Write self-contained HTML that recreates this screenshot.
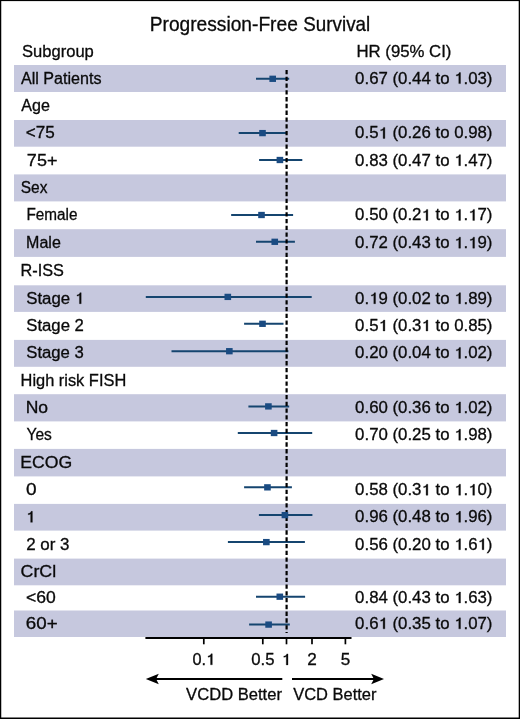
<!DOCTYPE html>
<html><head><meta charset="utf-8"><style>
html,body{margin:0;padding:0;background:#fff;}
#c{position:relative;width:520px;height:719px;overflow:hidden;background:#fff;}
svg{position:absolute;left:0;top:0;will-change:transform;}
text{font-family:"Liberation Sans",sans-serif;fill:#0a0a0a;stroke:#0a0a0a;stroke-width:0.3px;}
</style></head><body><div id="c"><svg width="520" height="719" viewBox="0 0 520 719">
<rect x="14" y="65" width="492" height="27.00" fill="#c6c8de"/>
<rect x="14" y="120" width="492" height="26.70" fill="#c6c8de"/>
<rect x="14" y="174.4" width="492" height="27.00" fill="#c6c8de"/>
<rect x="14" y="229.2" width="492" height="27.70" fill="#c6c8de"/>
<rect x="14" y="285.3" width="492" height="26.60" fill="#c6c8de"/>
<rect x="14" y="339.9" width="492" height="26.90" fill="#c6c8de"/>
<rect x="14" y="394.2" width="492" height="27.20" fill="#c6c8de"/>
<rect x="14" y="448.9" width="492" height="27.50" fill="#c6c8de"/>
<rect x="14" y="503.9" width="492" height="26.70" fill="#c6c8de"/>
<rect x="14" y="558.6" width="492" height="26.70" fill="#c6c8de"/>
<rect x="14" y="610.5" width="492" height="26.50" fill="#c6c8de"/>
<text x="149.73" y="30.90" font-size="20.2" textLength="148.12" lengthAdjust="spacingAndGlyphs">Progression-Free</text>
<text x="303.35" y="30.90" font-size="20.2" textLength="66.81" lengthAdjust="spacingAndGlyphs">Survival</text>
<text x="22.05" y="56.80" font-size="16" textLength="71.75" lengthAdjust="spacingAndGlyphs">Subgroup</text>
<text x="356.42" y="56.90" font-size="16" textLength="24.21" lengthAdjust="spacingAndGlyphs">HR</text><text x="385.30" y="56.90" font-size="16" textLength="39.14" lengthAdjust="spacingAndGlyphs">(95%</text><text x="429.09" y="56.90" font-size="16" textLength="22.35" lengthAdjust="spacingAndGlyphs">CI)</text>
<text x="20.97" y="83.60" font-size="16" textLength="17.89" lengthAdjust="spacingAndGlyphs">All</text><text x="43.33" y="83.60" font-size="16" textLength="58.15" lengthAdjust="spacingAndGlyphs">Patients</text>
<text x="355.14" y="83.60" font-size="16" textLength="32.70" lengthAdjust="spacingAndGlyphs">0.67</text><text x="392.51" y="83.60" font-size="16" textLength="38.29" lengthAdjust="spacingAndGlyphs">(0.44</text><text x="435.47" y="83.60" font-size="16" textLength="14.01" lengthAdjust="spacingAndGlyphs">to</text><path d="M458.78,83.60 L460.53,83.60 L460.53,72.60 L459.23,72.60 C458.93,74.00 457.93,74.60 456.33,74.80 L456.33,76.00 C457.33,76.00 458.23,75.70 458.78,75.20 Z" fill="#0a0a0a" stroke="#0a0a0a" stroke-width="0.3"/><text x="463.49" y="83.60" font-size="16" textLength="28.95" lengthAdjust="spacingAndGlyphs">.03)</text>
<text x="21.22" y="111.10" font-size="16" textLength="28.60" lengthAdjust="spacingAndGlyphs">Age</text>
<text x="25.86" y="138.45" font-size="16" textLength="28.96" lengthAdjust="spacingAndGlyphs">&lt;75</text>
<text x="355.14" y="138.45" font-size="16" textLength="23.35" lengthAdjust="spacingAndGlyphs">0.5</text><path d="M383.13,138.45 L384.88,138.45 L384.88,127.45 L383.58,127.45 C383.28,128.85 382.28,129.45 380.68,129.65 L380.68,130.85 C381.68,130.85 382.58,130.55 383.13,130.05 Z" fill="#0a0a0a" stroke="#0a0a0a" stroke-width="0.3"/><text x="392.51" y="138.45" font-size="16" textLength="38.29" lengthAdjust="spacingAndGlyphs">(0.26</text><text x="435.47" y="138.45" font-size="16" textLength="14.01" lengthAdjust="spacingAndGlyphs">to</text><text x="454.15" y="138.45" font-size="16" textLength="38.29" lengthAdjust="spacingAndGlyphs">0.98)</text>
<text x="26.88" y="165.65" font-size="16" textLength="30.51" lengthAdjust="spacingAndGlyphs">75+</text>
<text x="355.14" y="165.65" font-size="16" textLength="32.70" lengthAdjust="spacingAndGlyphs">0.83</text><text x="392.51" y="165.65" font-size="16" textLength="38.29" lengthAdjust="spacingAndGlyphs">(0.47</text><text x="435.47" y="165.65" font-size="16" textLength="14.01" lengthAdjust="spacingAndGlyphs">to</text><path d="M458.78,165.65 L460.53,165.65 L460.53,154.65 L459.23,154.65 C458.93,156.05 457.93,156.65 456.33,156.85 L456.33,158.05 C457.33,158.05 458.23,157.75 458.78,157.25 Z" fill="#0a0a0a" stroke="#0a0a0a" stroke-width="0.3"/><text x="463.49" y="165.65" font-size="16" textLength="28.95" lengthAdjust="spacingAndGlyphs">.47)</text>
<text x="20.80" y="193.00" font-size="16" textLength="26.67" lengthAdjust="spacingAndGlyphs">Sex</text>
<text x="26.44" y="220.40" font-size="16" textLength="51.04" lengthAdjust="spacingAndGlyphs">Female</text>
<text x="355.14" y="220.40" font-size="16" textLength="32.70" lengthAdjust="spacingAndGlyphs">0.50</text><text x="392.51" y="220.40" font-size="16" textLength="28.95" lengthAdjust="spacingAndGlyphs">(0.2</text><path d="M426.09,220.40 L427.84,220.40 L427.84,209.40 L426.54,209.40 C426.24,210.80 425.24,211.40 423.64,211.60 L423.64,212.80 C424.64,212.80 425.54,212.50 426.09,212.00 Z" fill="#0a0a0a" stroke="#0a0a0a" stroke-width="0.3"/><text x="435.47" y="220.40" font-size="16" textLength="14.01" lengthAdjust="spacingAndGlyphs">to</text><path d="M458.78,220.40 L460.53,220.40 L460.53,209.40 L459.23,209.40 C458.93,210.80 457.93,211.40 456.33,211.60 L456.33,212.80 C457.33,212.80 458.23,212.50 458.78,212.00 Z" fill="#0a0a0a" stroke="#0a0a0a" stroke-width="0.3"/><text x="463.49" y="220.40" font-size="16" textLength="4.67" lengthAdjust="spacingAndGlyphs">.</text><path d="M472.79,220.40 L474.54,220.40 L474.54,209.40 L473.24,209.40 C472.94,210.80 471.94,211.40 470.34,211.60 L470.34,212.80 C471.34,212.80 472.24,212.50 472.79,212.00 Z" fill="#0a0a0a" stroke="#0a0a0a" stroke-width="0.3"/><text x="477.50" y="220.40" font-size="16" textLength="14.94" lengthAdjust="spacingAndGlyphs">7)</text>
<text x="26.09" y="248.15" font-size="16" textLength="34.73" lengthAdjust="spacingAndGlyphs">Male</text>
<text x="355.14" y="248.15" font-size="16" textLength="32.70" lengthAdjust="spacingAndGlyphs">0.72</text><text x="392.51" y="248.15" font-size="16" textLength="38.29" lengthAdjust="spacingAndGlyphs">(0.43</text><text x="435.47" y="248.15" font-size="16" textLength="14.01" lengthAdjust="spacingAndGlyphs">to</text><path d="M458.78,248.15 L460.53,248.15 L460.53,237.15 L459.23,237.15 C458.93,238.55 457.93,239.15 456.33,239.35 L456.33,240.55 C457.33,240.55 458.23,240.25 458.78,239.75 Z" fill="#0a0a0a" stroke="#0a0a0a" stroke-width="0.3"/><text x="463.49" y="248.15" font-size="16" textLength="4.67" lengthAdjust="spacingAndGlyphs">.</text><path d="M472.79,248.15 L474.54,248.15 L474.54,237.15 L473.24,237.15 C472.94,238.55 471.94,239.15 470.34,239.35 L470.34,240.55 C471.34,240.55 472.24,240.25 472.79,239.75 Z" fill="#0a0a0a" stroke="#0a0a0a" stroke-width="0.3"/><text x="477.50" y="248.15" font-size="16" textLength="14.94" lengthAdjust="spacingAndGlyphs">9)</text>
<text x="20.57" y="276.20" font-size="16" textLength="43.38" lengthAdjust="spacingAndGlyphs">R-ISS</text>
<text x="26.24" y="303.70" font-size="16" textLength="43.91" lengthAdjust="spacingAndGlyphs">Stage</text><path d="M79.45,303.70 L81.20,303.70 L81.20,292.70 L79.90,292.70 C79.60,294.10 78.60,294.70 77.00,294.90 L77.00,296.10 C78.00,296.10 78.90,295.80 79.45,295.30 Z" fill="#0a0a0a" stroke="#0a0a0a" stroke-width="0.3"/>
<text x="355.14" y="303.70" font-size="16" textLength="14.01" lengthAdjust="spacingAndGlyphs">0.</text><path d="M373.79,303.70 L375.54,303.70 L375.54,292.70 L374.24,292.70 C373.94,294.10 372.94,294.70 371.34,294.90 L371.34,296.10 C372.34,296.10 373.24,295.80 373.79,295.30 Z" fill="#0a0a0a" stroke="#0a0a0a" stroke-width="0.3"/><text x="378.50" y="303.70" font-size="16" textLength="9.34" lengthAdjust="spacingAndGlyphs">9</text><text x="392.51" y="303.70" font-size="16" textLength="38.29" lengthAdjust="spacingAndGlyphs">(0.02</text><text x="435.47" y="303.70" font-size="16" textLength="14.01" lengthAdjust="spacingAndGlyphs">to</text><path d="M458.78,303.70 L460.53,303.70 L460.53,292.70 L459.23,292.70 C458.93,294.10 457.93,294.70 456.33,294.90 L456.33,296.10 C457.33,296.10 458.23,295.80 458.78,295.30 Z" fill="#0a0a0a" stroke="#0a0a0a" stroke-width="0.3"/><text x="463.49" y="303.70" font-size="16" textLength="28.95" lengthAdjust="spacingAndGlyphs">.89)</text>
<text x="26.24" y="331.00" font-size="16" textLength="43.74" lengthAdjust="spacingAndGlyphs">Stage</text><text x="74.63" y="331.00" font-size="16" textLength="9.31" lengthAdjust="spacingAndGlyphs">2</text>
<text x="355.14" y="331.00" font-size="16" textLength="23.35" lengthAdjust="spacingAndGlyphs">0.5</text><path d="M383.13,331.00 L384.88,331.00 L384.88,320.00 L383.58,320.00 C383.28,321.40 382.28,322.00 380.68,322.20 L380.68,323.40 C381.68,323.40 382.58,323.10 383.13,322.60 Z" fill="#0a0a0a" stroke="#0a0a0a" stroke-width="0.3"/><text x="392.51" y="331.00" font-size="16" textLength="28.95" lengthAdjust="spacingAndGlyphs">(0.3</text><path d="M426.09,331.00 L427.84,331.00 L427.84,320.00 L426.54,320.00 C426.24,321.40 425.24,322.00 423.64,322.20 L423.64,323.40 C424.64,323.40 425.54,323.10 426.09,322.60 Z" fill="#0a0a0a" stroke="#0a0a0a" stroke-width="0.3"/><text x="435.47" y="331.00" font-size="16" textLength="14.01" lengthAdjust="spacingAndGlyphs">to</text><text x="454.15" y="331.00" font-size="16" textLength="38.29" lengthAdjust="spacingAndGlyphs">0.85)</text>
<text x="26.24" y="358.45" font-size="16" textLength="43.66" lengthAdjust="spacingAndGlyphs">Stage</text><text x="74.54" y="358.45" font-size="16" textLength="9.29" lengthAdjust="spacingAndGlyphs">3</text>
<text x="355.14" y="358.45" font-size="16" textLength="32.70" lengthAdjust="spacingAndGlyphs">0.20</text><text x="392.51" y="358.45" font-size="16" textLength="38.29" lengthAdjust="spacingAndGlyphs">(0.04</text><text x="435.47" y="358.45" font-size="16" textLength="14.01" lengthAdjust="spacingAndGlyphs">to</text><path d="M458.78,358.45 L460.53,358.45 L460.53,347.45 L459.23,347.45 C458.93,348.85 457.93,349.45 456.33,349.65 L456.33,350.85 C457.33,350.85 458.23,350.55 458.78,350.05 Z" fill="#0a0a0a" stroke="#0a0a0a" stroke-width="0.3"/><text x="463.49" y="358.45" font-size="16" textLength="28.95" lengthAdjust="spacingAndGlyphs">.02)</text>
<text x="20.55" y="385.60" font-size="16" textLength="33.72" lengthAdjust="spacingAndGlyphs">High</text><text x="58.83" y="385.60" font-size="16" textLength="25.50" lengthAdjust="spacingAndGlyphs">risk</text><text x="88.89" y="385.60" font-size="16" textLength="37.35" lengthAdjust="spacingAndGlyphs">FISH</text>
<text x="25.66" y="412.90" font-size="16" textLength="22.37" lengthAdjust="spacingAndGlyphs">No</text>
<text x="355.14" y="412.90" font-size="16" textLength="32.70" lengthAdjust="spacingAndGlyphs">0.60</text><text x="392.51" y="412.90" font-size="16" textLength="38.29" lengthAdjust="spacingAndGlyphs">(0.36</text><text x="435.47" y="412.90" font-size="16" textLength="14.01" lengthAdjust="spacingAndGlyphs">to</text><path d="M458.78,412.90 L460.53,412.90 L460.53,401.90 L459.23,401.90 C458.93,403.30 457.93,403.90 456.33,404.10 L456.33,405.30 C457.33,405.30 458.23,405.00 458.78,404.50 Z" fill="#0a0a0a" stroke="#0a0a0a" stroke-width="0.3"/><text x="463.49" y="412.90" font-size="16" textLength="28.95" lengthAdjust="spacingAndGlyphs">.02)</text>
<text x="26.48" y="440.25" font-size="16" textLength="25.35" lengthAdjust="spacingAndGlyphs">Yes</text>
<text x="355.14" y="440.25" font-size="16" textLength="32.70" lengthAdjust="spacingAndGlyphs">0.70</text><text x="392.51" y="440.25" font-size="16" textLength="38.29" lengthAdjust="spacingAndGlyphs">(0.25</text><text x="435.47" y="440.25" font-size="16" textLength="14.01" lengthAdjust="spacingAndGlyphs">to</text><path d="M458.78,440.25 L460.53,440.25 L460.53,429.25 L459.23,429.25 C458.93,430.65 457.93,431.25 456.33,431.45 L456.33,432.65 C457.33,432.65 458.23,432.35 458.78,431.85 Z" fill="#0a0a0a" stroke="#0a0a0a" stroke-width="0.3"/><text x="463.49" y="440.25" font-size="16" textLength="28.95" lengthAdjust="spacingAndGlyphs">.98)</text>
<text x="20.25" y="467.75" font-size="16" textLength="51.97" lengthAdjust="spacingAndGlyphs">ECOG</text>
<text x="26.06" y="495.25" font-size="16" textLength="10.59" lengthAdjust="spacingAndGlyphs">0</text>
<text x="355.14" y="495.25" font-size="16" textLength="32.70" lengthAdjust="spacingAndGlyphs">0.58</text><text x="392.51" y="495.25" font-size="16" textLength="28.95" lengthAdjust="spacingAndGlyphs">(0.3</text><path d="M426.09,495.25 L427.84,495.25 L427.84,484.25 L426.54,484.25 C426.24,485.65 425.24,486.25 423.64,486.45 L423.64,487.65 C424.64,487.65 425.54,487.35 426.09,486.85 Z" fill="#0a0a0a" stroke="#0a0a0a" stroke-width="0.3"/><text x="435.47" y="495.25" font-size="16" textLength="14.01" lengthAdjust="spacingAndGlyphs">to</text><path d="M458.78,495.25 L460.53,495.25 L460.53,484.25 L459.23,484.25 C458.93,485.65 457.93,486.25 456.33,486.45 L456.33,487.65 C457.33,487.65 458.23,487.35 458.78,486.85 Z" fill="#0a0a0a" stroke="#0a0a0a" stroke-width="0.3"/><text x="463.49" y="495.25" font-size="16" textLength="4.67" lengthAdjust="spacingAndGlyphs">.</text><path d="M472.79,495.25 L474.54,495.25 L474.54,484.25 L473.24,484.25 C472.94,485.65 471.94,486.25 470.34,486.45 L470.34,487.65 C471.34,487.65 472.24,487.35 472.79,486.85 Z" fill="#0a0a0a" stroke="#0a0a0a" stroke-width="0.3"/><text x="477.50" y="495.25" font-size="16" textLength="14.94" lengthAdjust="spacingAndGlyphs">0)</text>
<path d="M30.65,522.35 L32.40,522.35 L32.40,511.35 L31.10,511.35 C30.80,512.75 29.80,513.35 28.20,513.55 L28.20,514.75 C29.20,514.75 30.10,514.45 30.65,513.95 Z" fill="#0a0a0a" stroke="#0a0a0a" stroke-width="0.3"/>
<text x="355.14" y="522.35" font-size="16" textLength="32.70" lengthAdjust="spacingAndGlyphs">0.96</text><text x="392.51" y="522.35" font-size="16" textLength="38.29" lengthAdjust="spacingAndGlyphs">(0.48</text><text x="435.47" y="522.35" font-size="16" textLength="14.01" lengthAdjust="spacingAndGlyphs">to</text><path d="M458.78,522.35 L460.53,522.35 L460.53,511.35 L459.23,511.35 C458.93,512.75 457.93,513.35 456.33,513.55 L456.33,514.75 C457.33,514.75 458.23,514.45 458.78,513.95 Z" fill="#0a0a0a" stroke="#0a0a0a" stroke-width="0.3"/><text x="463.49" y="522.35" font-size="16" textLength="28.95" lengthAdjust="spacingAndGlyphs">.96)</text>
<text x="26.25" y="549.70" font-size="16" textLength="9.42" lengthAdjust="spacingAndGlyphs">2</text><text x="40.37" y="549.70" font-size="16" textLength="15.05" lengthAdjust="spacingAndGlyphs">or</text><text x="60.13" y="549.70" font-size="16" textLength="9.42" lengthAdjust="spacingAndGlyphs">3</text>
<text x="355.14" y="549.70" font-size="16" textLength="32.70" lengthAdjust="spacingAndGlyphs">0.56</text><text x="392.51" y="549.70" font-size="16" textLength="38.29" lengthAdjust="spacingAndGlyphs">(0.20</text><text x="435.47" y="549.70" font-size="16" textLength="14.01" lengthAdjust="spacingAndGlyphs">to</text><path d="M458.78,549.70 L460.53,549.70 L460.53,538.70 L459.23,538.70 C458.93,540.10 457.93,540.70 456.33,540.90 L456.33,542.10 C457.33,542.10 458.23,541.80 458.78,541.30 Z" fill="#0a0a0a" stroke="#0a0a0a" stroke-width="0.3"/><text x="463.49" y="549.70" font-size="16" textLength="14.01" lengthAdjust="spacingAndGlyphs">.6</text><path d="M482.14,549.70 L483.89,549.70 L483.89,538.70 L482.59,538.70 C482.29,540.10 481.29,540.70 479.69,540.90 L479.69,542.10 C480.69,542.10 481.59,541.80 482.14,541.30 Z" fill="#0a0a0a" stroke="#0a0a0a" stroke-width="0.3"/><text x="486.85" y="549.70" font-size="16" textLength="5.59" lengthAdjust="spacingAndGlyphs">)</text>
<text x="20.60" y="577.05" font-size="16" textLength="35.59" lengthAdjust="spacingAndGlyphs">CrCl</text>
<text x="25.94" y="603.00" font-size="16" textLength="29.75" lengthAdjust="spacingAndGlyphs">&lt;60</text>
<text x="355.14" y="603.00" font-size="16" textLength="32.70" lengthAdjust="spacingAndGlyphs">0.84</text><text x="392.51" y="603.00" font-size="16" textLength="38.29" lengthAdjust="spacingAndGlyphs">(0.43</text><text x="435.47" y="603.00" font-size="16" textLength="14.01" lengthAdjust="spacingAndGlyphs">to</text><path d="M458.78,603.00 L460.53,603.00 L460.53,592.00 L459.23,592.00 C458.93,593.40 457.93,594.00 456.33,594.20 L456.33,595.40 C457.33,595.40 458.23,595.10 458.78,594.60 Z" fill="#0a0a0a" stroke="#0a0a0a" stroke-width="0.3"/><text x="463.49" y="603.00" font-size="16" textLength="28.95" lengthAdjust="spacingAndGlyphs">.63)</text>
<text x="25.85" y="628.85" font-size="16" textLength="31.78" lengthAdjust="spacingAndGlyphs">60+</text>
<text x="355.14" y="628.85" font-size="16" textLength="23.35" lengthAdjust="spacingAndGlyphs">0.6</text><path d="M383.13,628.85 L384.88,628.85 L384.88,617.85 L383.58,617.85 C383.28,619.25 382.28,619.85 380.68,620.05 L380.68,621.25 C381.68,621.25 382.58,620.95 383.13,620.45 Z" fill="#0a0a0a" stroke="#0a0a0a" stroke-width="0.3"/><text x="392.51" y="628.85" font-size="16" textLength="38.29" lengthAdjust="spacingAndGlyphs">(0.35</text><text x="435.47" y="628.85" font-size="16" textLength="14.01" lengthAdjust="spacingAndGlyphs">to</text><path d="M458.78,628.85 L460.53,628.85 L460.53,617.85 L459.23,617.85 C458.93,619.25 457.93,619.85 456.33,620.05 L456.33,621.25 C457.33,621.25 458.23,620.95 458.78,620.45 Z" fill="#0a0a0a" stroke="#0a0a0a" stroke-width="0.3"/><text x="463.49" y="628.85" font-size="16" textLength="28.95" lengthAdjust="spacingAndGlyphs">.07)</text>
<line x1="256.0" y1="78.8" x2="289.2" y2="78.8" stroke="#15456f" stroke-width="2.0"/>
<line x1="238.7" y1="133.1" x2="286.4" y2="133.1" stroke="#15456f" stroke-width="2.0"/>
<line x1="259.1" y1="160.0" x2="302.3" y2="160.0" stroke="#15456f" stroke-width="2.0"/>
<line x1="231.15" y1="215.0" x2="293.1" y2="215.0" stroke="#15456f" stroke-width="2.0"/>
<line x1="256.0" y1="241.8" x2="294.9" y2="241.8" stroke="#15456f" stroke-width="2.0"/>
<line x1="145.8" y1="296.9" x2="311.7" y2="296.9" stroke="#15456f" stroke-width="2.0"/>
<line x1="244.1" y1="323.8" x2="283.5" y2="323.8" stroke="#15456f" stroke-width="2.0"/>
<line x1="171.5" y1="351.2" x2="288.4" y2="351.2" stroke="#15456f" stroke-width="2.0"/>
<line x1="248.4" y1="406.4" x2="289.2" y2="406.4" stroke="#15456f" stroke-width="2.0"/>
<line x1="237.8" y1="433.0" x2="312.2" y2="433.0" stroke="#15456f" stroke-width="2.0"/>
<line x1="244.1" y1="487.35" x2="291.9" y2="487.35" stroke="#15456f" stroke-width="2.0"/>
<line x1="258.9" y1="515.1" x2="312.4" y2="515.1" stroke="#15456f" stroke-width="2.0"/>
<line x1="227.9" y1="542.1" x2="304.9" y2="542.1" stroke="#15456f" stroke-width="2.0"/>
<line x1="256.0" y1="596.7" x2="305.1" y2="596.7" stroke="#15456f" stroke-width="2.0"/>
<line x1="249.1" y1="624.6" x2="289.8" y2="624.6" stroke="#15456f" stroke-width="2.0"/>
<line x1="286.6" y1="70" x2="286.6" y2="633" stroke="#000" stroke-width="2.2" stroke-dasharray="4.3 2.47"/>
<rect x="269.40" y="75.65" width="6.6" height="6.3" fill="#1a4b82"/>
<rect x="259.20" y="129.95" width="6.6" height="6.3" fill="#1a4b82"/>
<rect x="276.60" y="156.85" width="6.6" height="6.3" fill="#1a4b82"/>
<rect x="258.20" y="211.85" width="6.6" height="6.3" fill="#1a4b82"/>
<rect x="271.45" y="238.65" width="6.6" height="6.3" fill="#1a4b82"/>
<rect x="224.50" y="293.75" width="6.6" height="6.3" fill="#1a4b82"/>
<rect x="259.20" y="320.65" width="6.6" height="6.3" fill="#1a4b82"/>
<rect x="226.05" y="348.05" width="6.6" height="6.3" fill="#1a4b82"/>
<rect x="265.10" y="403.25" width="6.6" height="6.3" fill="#1a4b82"/>
<rect x="270.80" y="429.85" width="6.6" height="6.3" fill="#1a4b82"/>
<rect x="264.15" y="484.20" width="6.6" height="6.3" fill="#1a4b82"/>
<rect x="281.60" y="511.95" width="6.6" height="6.3" fill="#1a4b82"/>
<rect x="263.05" y="538.95" width="6.6" height="6.3" fill="#1a4b82"/>
<rect x="276.50" y="593.55" width="6.6" height="6.3" fill="#1a4b82"/>
<rect x="265.30" y="621.45" width="6.6" height="6.3" fill="#1a4b82"/>
<line x1="145.4" y1="638" x2="351.5" y2="638" stroke="#000" stroke-width="1.8"/>
<line x1="203.8" y1="638" x2="203.8" y2="644.3" stroke="#000" stroke-width="1.7"/>
<line x1="262.8" y1="638" x2="262.8" y2="644.3" stroke="#000" stroke-width="1.7"/>
<line x1="286.5" y1="638" x2="286.5" y2="644.3" stroke="#000" stroke-width="1.7"/>
<line x1="312" y1="638" x2="312" y2="644.3" stroke="#000" stroke-width="1.7"/>
<line x1="345.4" y1="638" x2="345.4" y2="644.3" stroke="#000" stroke-width="1.7"/>
<text x="192.56" y="664.80" font-size="16" textLength="13.56" lengthAdjust="spacingAndGlyphs">0.</text><path d="M210.55,664.80 L212.30,664.80 L212.30,653.80 L211.00,653.80 C210.70,655.20 209.70,655.80 208.10,656.00 L208.10,657.20 C209.10,657.20 210.00,656.90 210.55,656.40 Z" fill="#0a0a0a" stroke="#0a0a0a" stroke-width="0.3"/>
<text x="251.25" y="664.80" font-size="16" textLength="23.26" lengthAdjust="spacingAndGlyphs">0.5</text>
<text x="307.24" y="664.80" font-size="16" textLength="9.52" lengthAdjust="spacingAndGlyphs">2</text>
<text x="340.82" y="664.80" font-size="16" textLength="9.50" lengthAdjust="spacingAndGlyphs">5</text>
<path d="M286.25,664.90 L288.00,664.90 L288.00,653.90 L286.70,653.90 C286.40,655.30 285.40,655.90 283.80,656.10 L283.80,657.30 C284.80,657.30 285.70,657.00 286.25,656.50 Z" fill="#0a0a0a" stroke="#0a0a0a" stroke-width="0.3"/>
<line x1="156" y1="679" x2="282.3" y2="679" stroke="#000" stroke-width="1.8"/>
<path d="M145.8,679 L158.8,673.7 L156.1,679 L158.8,684.3 Z" fill="#000"/>
<line x1="292" y1="679" x2="374" y2="679" stroke="#000" stroke-width="1.8"/>
<path d="M384,679 L371.2,673.7 L373.9,679 L371.2,684.3 Z" fill="#000"/>
<text x="186.13" y="700.00" font-size="16" textLength="46.99" lengthAdjust="spacingAndGlyphs">VCDD</text><text x="237.73" y="700.00" font-size="16" textLength="44.25" lengthAdjust="spacingAndGlyphs">Better</text>
<text x="293.23" y="700.00" font-size="16" textLength="34.75" lengthAdjust="spacingAndGlyphs">VCD</text><text x="332.56" y="700.00" font-size="16" textLength="43.92" lengthAdjust="spacingAndGlyphs">Better</text>
<rect x="0" y="0" width="1.25" height="719" fill="#000"/>
<rect x="518.7" y="0" width="1.3" height="719" fill="#000"/>
<rect x="0" y="0" width="520" height="1.1" fill="#000"/>
<rect x="0" y="717.5" width="520" height="1.5" fill="#000"/>
</svg></div></body></html>
